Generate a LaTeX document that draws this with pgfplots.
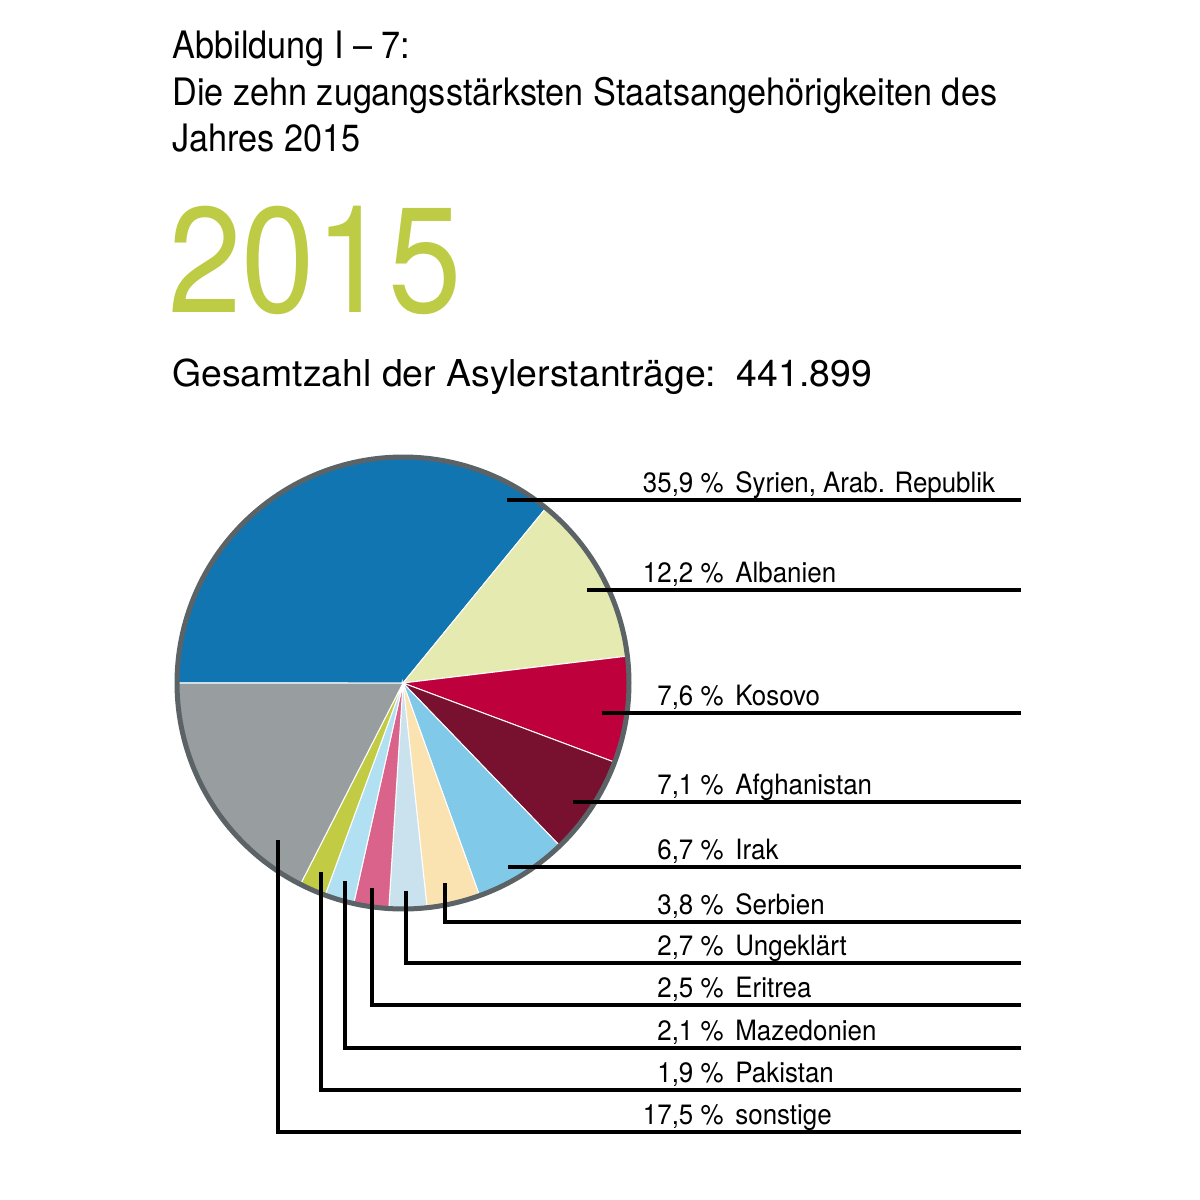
\documentclass[border=0pt]{standalone}
\usepackage{pgfplots}
\pgfplotsset{compat=1.18}
\usepackage{fontspec}
\setmainfont{TeX Gyre Heros}
\newfontfamily\ftitle[FakeStretch=0.905]{TeX Gyre Heros}
\newfontfamily\fbig[FakeStretch=0.88]{TeX Gyre Heros}
\newfontfamily\flbl[FakeStretch=0.925]{TeX Gyre Heros}
\newfontfamily\fges[FakeStretch=1.01]{TeX Gyre Heros}
\definecolor{syr}{HTML}{1175B1}
\definecolor{alb}{HTML}{E5EAB1}
\definecolor{kos}{HTML}{BE003C}
\definecolor{afg}{HTML}{77112F}
\definecolor{irk}{HTML}{80C9E8}
\definecolor{ser}{HTML}{FAE3B1}
\definecolor{ung}{HTML}{C9E2EE}
\definecolor{eri}{HTML}{D9638A}
\definecolor{maz}{HTML}{B2E0F3}
\definecolor{pak}{HTML}{C1CB44}
\definecolor{son}{HTML}{989D9F}
\definecolor{ring}{HTML}{5B6366}
\definecolor{green2015}{HTML}{BDCB45}
% slice: colour, cumulative percent before, cumulative percent after
\newcommand\slice[3]{%
  \addplot[fill=#1, draw=white, line width=0.5pt, domain={180-3.6*#3}:{180-3.6*#2}, samples=90]
    ({403+226*cos(x)},{683-226*sin(x)}) -- (axis cs:403,683) -- cycle;}
\newcommand\lbl[3]{% y of line, percent, name
  \node[anchor=base east, inner sep=0, font=\flbl\fontsize{14}{16}\selectfont] at (axis cs:724,#1-8) {#2 \%};
  \node[anchor=base west, inner sep=0, font=\flbl\fontsize{14}{16}\selectfont] at (axis cs:735,#1-8) {#3};}
\begin{document}
\begin{tikzpicture}
\begin{axis}[width=600pt, height=600pt, scale only axis, hide axis, clip=false,
  xmin=0, xmax=1200, ymin=0, ymax=1200, y dir=reverse]
\path (rel axis cs:0,0) rectangle (rel axis cs:1,1);
% percentages: 35.9 12.2 7.6 7.1 6.7 3.8 2.7 2.5 2.1 1.9 17.5
\slice{syr}{0}{35.9}
\slice{alb}{35.9}{48.1}
\slice{kos}{48.1}{55.7}
\slice{afg}{55.7}{62.8}
\slice{irk}{62.8}{69.5}
\slice{ser}{69.5}{73.3}
\slice{ung}{73.3}{76.0}
\slice{eri}{76.0}{78.5}
\slice{maz}{78.5}{80.6}
\slice{pak}{80.6}{82.5}
\slice{son}{82.5}{100}
\addplot[draw=ring, line width=2.5pt, domain=0:360, samples=240] ({403+226*cos(x)},{683-226*sin(x)});
% leader lines
\pgfplotsset{every axis plot/.append style={line width=1.6pt}}
\addplot[black] coordinates {(507,500) (1021,500)};
\addplot[black] coordinates {(587,590) (1021,590)};
\addplot[black] coordinates {(602,713) (1021,713)};
\addplot[black] coordinates {(573,802) (1021,802)};
\addplot[black] coordinates {(508,867) (1021,867)};
\addplot[black] coordinates {(445,883) (445,922) (1021,922)};
\addplot[black] coordinates {(406,891) (406,963) (1021,963)};
\addplot[black] coordinates {(372,888) (372,1005) (1021,1005)};
\addplot[black] coordinates {(345,881) (345,1048) (1021,1048)};
\addplot[black] coordinates {(321,872) (321,1090) (1021,1090)};
\addplot[black] coordinates {(278,840) (278,1132) (1021,1132)};
\lbl{500}{35,9}{Syrien, Arab. Republik}
\lbl{590}{12,2}{Albanien}
\lbl{713}{7,6}{Kosovo}
\lbl{802}{7,1}{Afghanistan}
\lbl{867}{6,7}{Irak}
\lbl{922}{3,8}{Serbien}
\lbl{963}{2,7}{Ungeklärt}
\lbl{1005}{2,5}{Eritrea}
\lbl{1048}{2,1}{Mazedonien}
\lbl{1090}{1,9}{Pakistan}
\lbl{1132}{17,5}{sonstige}
% titles
\node[anchor=base west, inner sep=0, font=\ftitle\fontsize{18.9}{22}\selectfont] at (axis cs:172,58) {Abbildung I – 7:};
\node[anchor=base west, inner sep=0, font=\ftitle\fontsize{18.9}{22}\selectfont] at (axis cs:172,105) {Die zehn zugangsstärksten Staatsangehörigkeiten des};
\node[anchor=base west, inner sep=0, font=\ftitle\fontsize{18.9}{22}\selectfont] at (axis cs:172,151) {Jahres 2015};
\node[anchor=base west, inner sep=0, text=green2015, font=\fbig\fontsize{75}{80}\selectfont] at (axis cs:168,312) {2015};
\node[anchor=base west, inner sep=0, font=\fges\fontsize{18.5}{22}\selectfont] at (axis cs:172,386) {Gesamtzahl der Asylerstanträge:\ \ 441.899};
\end{axis}
\end{tikzpicture}
\end{document}
